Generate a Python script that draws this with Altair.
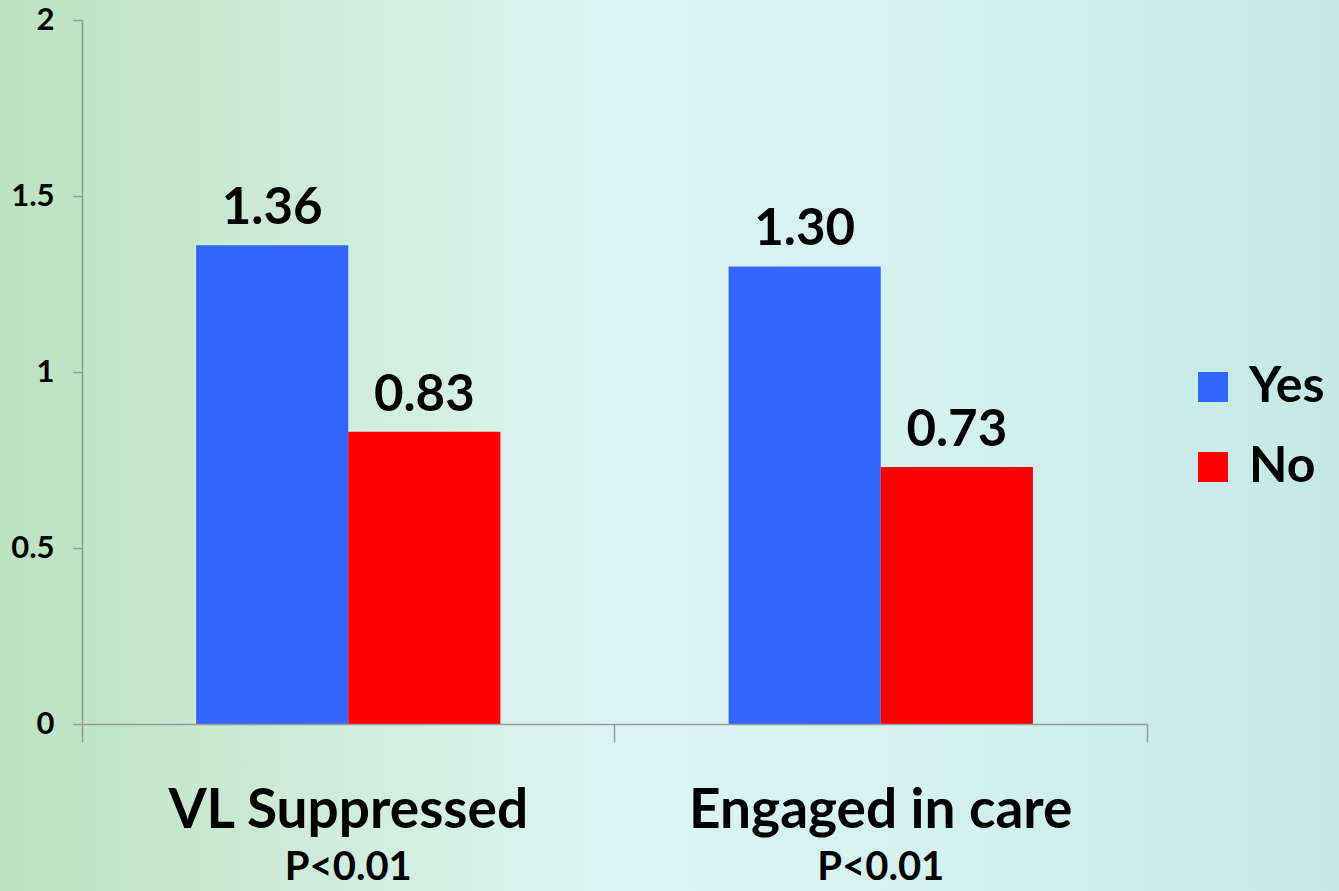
import altair as alt
import pandas as pd

# Chart values
categories = ["VL Suppressed", "Engaged in care"]
groups = ["Yes", "No"]
yes_values = [1.36, 1.30]
no_values = [0.83, 0.73]
p_labels = ["P<0.01", "P<0.01"]

bar_colors = ["#3366ff", "#ff0000"]

rows = []
for cat, y_val, n_val in zip(categories, yes_values, no_values):
    rows.append({"category": cat, "group": "Yes", "value": y_val})
    rows.append({"category": cat, "group": "No", "value": n_val})
bars_df = pd.DataFrame(rows)
labels_df = pd.DataFrame({"category": categories, "p": p_labels})

FONT = "Lato"
AXIS_GREY = "#9a9a9a"

x_enc = alt.X(
    "category:N",
    sort=categories,
    scale=alt.Scale(paddingInner=0, paddingOuter=0),
    axis=alt.Axis(
        labels=False,
        title=None,
        tickSize=18,
        bandPosition=1,
        tickExtra=True,
        domainColor=AXIS_GREY,
        tickColor=AXIS_GREY,
        domainWidth=1.5,
        tickWidth=1.5,
        zindex=1,
    ),
)
xoff_enc = alt.XOffset(
    "group:N", sort=groups, scale=alt.Scale(paddingOuter=0.75, paddingInner=0)
)
y_enc = alt.Y(
    "value:Q",
    scale=alt.Scale(domain=[0, 2], nice=False),
    axis=alt.Axis(
        values=[0, 0.5, 1, 1.5, 2],
        format="~g",
        title=None,
        grid=False,
        tickSize=9,
        labelPadding=19,
        labelFontSize=31,
        labelFontWeight="bold",
        labelColor="black",
        labelFont=FONT,
        domainColor=AXIS_GREY,
        tickColor=AXIS_GREY,
        domainWidth=1.5,
        tickWidth=1.5,
        zindex=1,
    ),
)

# soft green-to-aqua backdrop spanning the whole canvas
backdrop = (
    alt.Chart(alt.Data(values=[{"k": 1}]))
    .mark_rect(
        color=alt.LinearGradient(
            gradient="linear",
            x1=0, x2=1, y1=0, y2=0,
            stops=[
                alt.GradientStop(offset=0.0, color="#bde2bf"),
                alt.GradientStop(offset=0.22, color="#cdebd8"),
                alt.GradientStop(offset=0.45, color="#dbf5f2"),
                alt.GradientStop(offset=0.72, color="#d3f1ee"),
                alt.GradientStop(offset=1.0, color="#c3e8e6"),
            ],
        )
    )
    .encode(
        x=alt.value(-82), x2=alt.value(1257),
        y=alt.value(-20), y2=alt.value(871),
    )
)

bars = (
    alt.Chart(bars_df)
    .mark_bar()
    .encode(
        x=x_enc,
        xOffset=xoff_enc,
        y=y_enc,
        color=alt.Color(
            "group:N",
            sort=groups,
            scale=alt.Scale(domain=groups, range=bar_colors),
            legend=alt.Legend(
                title=None,
                orient="none",
                legendX=1106,
                legendY=342,
                symbolType="square",
                symbolSize=900,
                symbolStrokeWidth=0,
                labelFontSize=50,
                labelFontWeight="bold",
                labelFont=FONT,
                labelColor="black",
                labelOffset=11,
                rowPadding=30,
            ),
        ),
    )
)

value_text = (
    alt.Chart(bars_df)
    .mark_text(
        baseline="alphabetic", dy=-21, fontSize=51, fontWeight="bold",
        font=FONT, color="black",
    )
    .encode(
        x=alt.X("category:N", sort=categories),
        xOffset=alt.XOffset("group:N", sort=groups),
        y=alt.Y("value:Q"),
        text=alt.Text("value:Q", format=".2f"),
    )
)

cat_text = (
    alt.Chart(labels_df)
    .mark_text(
        baseline="alphabetic", fontSize=55, fontWeight="bold",
        font=FONT, color="black",
    )
    .encode(
        x=alt.X("category:N", sort=categories),
        y=alt.value(808),
        text="category:N",
    )
)

p_text = (
    alt.Chart(labels_df)
    .mark_text(
        baseline="alphabetic", fontSize=40, fontWeight="bold",
        font=FONT, color="black",
    )
    .encode(
        x=alt.X("category:N", sort=categories),
        y=alt.value(860),
        text="p:N",
    )
)

chart = (
    alt.layer(backdrop, bars, value_text, cat_text, p_text)
    .properties(
        width=1065,
        height=704,
        padding={"left": 82, "top": 20, "right": 192, "bottom": 167},
        autosize=alt.AutoSizeParams(type="none"),
        background="#cfeedd",
    )
    .configure_view(stroke=None)
    .configure(font=FONT)
)

chart.save("out.html", embed_options={"renderer": "svg", "actions": False})
